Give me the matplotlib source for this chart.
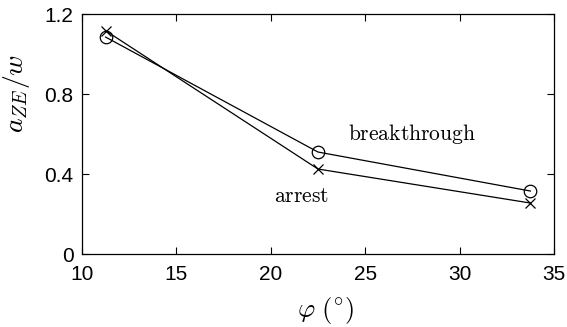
import matplotlib
matplotlib.use("Agg")
import matplotlib.pyplot as plt

# angle phi (deg) and normalised a_ZE / w
phi = [11.25, 22.5, 33.75]
breakthrough = [1.085, 0.51, 0.315]
arrest = [1.117, 0.425, 0.255]

xticks = [10, 15, 20, 25, 30, 35]
yticks = [0, 0.4, 0.8, 1.2]

plt.rcParams["font.family"] = ["Liberation Sans", "DejaVu Sans"]
plt.rcParams["mathtext.fontset"] = "cm"

fig = plt.figure(figsize=(5.67, 3.27), dpi=100)
ax = fig.add_axes([0.1446, 0.2232, 0.8324, 0.7338])

ax.plot(phi, breakthrough, color="black", lw=0.9, marker="o", ms=9,
        mfc="none", mew=0.9)
ax.plot(phi, arrest, color="black", lw=0.9, marker="x", ms=7, mew=0.9)

ax.text(27.5, 0.6, r"$\mathrm{breakthrough}$", fontsize=15.5, ha="center", va="center")
ax.text(21.65, 0.29, r"$\mathrm{arrest}$", fontsize=15.5, ha="center", va="center")

ax.set_xlim(10, 35)
ax.set_ylim(0, 1.2)
ax.set_xticks(xticks)
ax.set_yticks(yticks)
ax.set_yticklabels(["0", "0.4", "0.8", "1.2"])
ax.tick_params(direction="in", top=True, right=True, labelsize=15, length=5, width=0.8)
ax.tick_params(axis="x", pad=8)
ax.tick_params(axis="y", pad=6)
for s in ax.spines.values():
    s.set_linewidth(0.9)

fig.text(325 / 567, 1 - 310 / 327, r"$\varphi\ (^{\circ})$", fontsize=19,
         ha="center", va="center")
fig.text(17 / 567, 1 - 93 / 327, r"$a_{ZE}/w$", fontsize=20, rotation=90,
         ha="center", va="center")

fig.savefig("out.png", dpi=100)
